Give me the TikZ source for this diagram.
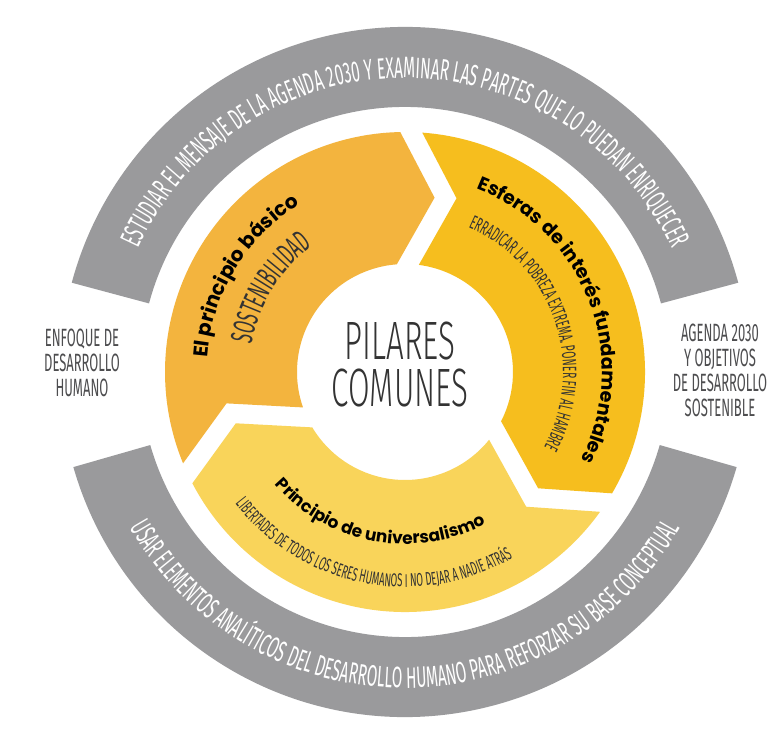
\documentclass[tikz,border=0pt]{standalone}
\usepackage{fontspec}
\usepackage{xcolor}
\usetikzlibrary{decorations.text, calc}

\newfontfamily\condfont[FakeStretch=0.52]{Fira Sans}
\newfontfamily\thinfont[FakeStretch=0.58]{Fira Sans Light}
\newfontfamily\titlefont{Poppins}

\definecolor{ringGray}{HTML}{9A9A9C}
\definecolor{segOrange}{HTML}{F3B43E}
\definecolor{segGold}{HTML}{F6BE1E}
\definecolor{segYellow}{HTML}{F9D45A}
\definecolor{labelGray}{HTML}{4D4D4F}
\definecolor{subText}{HTML}{333333}

% one arrow piece of the yellow ring: fill, tip angle, notch angle
\newcommand{\arrowseg}[3]{%
  \fill[#1] (#2+2.63:240) arc[start angle=#2+2.63, end angle=#3-2.63, radius=240]
    -- (#3-15.03:181.2) -- (#3-5.85:108)
    arc[start angle=#3-5.85, end angle=#2+5.85, radius=108]
    -- (#2-8.13:176.8) -- cycle;}

\newcommand{\graytext}{\condfont\fontsize{29.5}{29.5}\selectfont}
\newcommand{\titletext}[1]{\titlefont\bfseries\fontsize{#1}{#1}\selectfont}
\newcommand{\subtext}[1]{\condfont\fontsize{#1}{#1}\selectfont}

\begin{document}
\begin{tikzpicture}[x=1pt, y=1pt,
  sidelabel/.style={font=\condfont\fontsize{25}{25}\selectfont, text=labelGray, align=center},
  along/.style={decorate, decoration={text along path, text align=center, text color=#1}}]
  \path[fill=white, use as bounding box] (-405,-362) rectangle (373,372);

  % outer grey arcs
  \fill[ringGray] (15:345) arc[start angle=15, end angle=165, radius=345]
    -- (165:265) arc[start angle=165, end angle=15, radius=265] -- cycle;
  \fill[ringGray] (196:345) arc[start angle=196, end angle=344, radius=345]
    -- (344:265) arc[start angle=344, end angle=196, radius=265] -- cycle;

  \path[along=white, decoration={text={|\graytext|ESTUDIAR EL MENSAJE DE LA AGENDA 2030 Y EXAMINAR LAS PARTES QUE LO PUEDAN ENRIQUECER}}]
    (172:294) arc[start angle=172, end angle=8, radius=294];
  \path[along=white, decoration={text={|\graytext|USAR ELEMENTOS ANALÍTICOS DEL DESARROLLO HUMANO PARA REFORZAR SU BASE CONCEPTUAL}}]
    (188:316) arc[start angle=188, end angle=352, radius=316];

  % the three arrow pieces
  \arrowseg{segOrange}{88.5}{205}
  \arrowseg{segGold}{-33}{88.5}
  \arrowseg{segYellow}{205}{327}

  \path[along=black, decoration={text={|\titletext{20}|El principio básico}}]
    (202:198) arc[start angle=202, end angle=96, radius=198];
  \path[along=subText, decoration={text={|\subtext{31}|SOSTENIBILIDAD}}]
    (200:156) arc[start angle=200, end angle=96, radius=156];

  \path[along=black, decoration={text={|\titletext{19}|Esferas de interés fundamentales}}]
    (78:197) arc[start angle=78, end angle=-36, radius=197];
  \path[along=subText, decoration={text={|\subtext{19.5}|ERRADICAR LA POBREZA EXTREMA. PONER FIN AL HAMBRE}}]
    (76:158) arc[start angle=76, end angle=-38, radius=158];

  \path[along=black, decoration={text={|\titletext{17}|Principio de universalismo}}]
    (212:172) arc[start angle=212, end angle=307, radius=172];
  \path[along=subText, decoration={text={|\subtext{18.5}|LIBERTADES DE TODOS LOS SERES HUMANOS I NO DEJAR A NADIE ATRÁS}}]
    (206:215) arc[start angle=206, end angle=312, radius=215];

  % centre and side labels
  \node[font=\thinfont\fontsize{54}{47}\selectfont, text=subText, align=center] (pilares) at (-5,7) {PILARES\\COMUNES};
  \node[sidelabel] (enfoque) at (-323,9) {ENFOQUE DE\\DESARROLLO\\HUMANO};
  \node[sidelabel] (agenda) at (315,2) {AGENDA 2030\\Y OBJETIVOS\\DE DESARROLLO\\SOSTENIBLE};
\end{tikzpicture}
\end{document}
